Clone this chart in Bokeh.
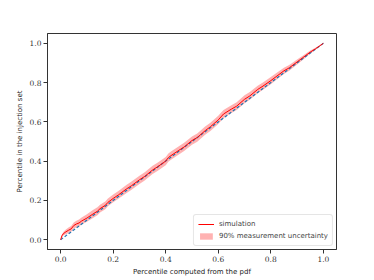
from bokeh.plotting import figure
from bokeh.models import Range1d, Legend, LegendItem, FixedTicker, PrintfTickFormatter
from bokeh.embed import file_html
from bokeh.resources import INLINE

# data
pdf_pct = [0.0, 0.005, 0.01, 0.02, 0.03, 0.04, 0.05, 0.06, 0.07, 0.08, 0.10, 0.12, 0.14,
           0.15, 0.17, 0.18, 0.20, 0.22, 0.25, 0.27, 0.30, 0.32, 0.35, 0.37, 0.40, 0.41,
           0.42, 0.45, 0.47, 0.50, 0.52, 0.55, 0.57, 0.60, 0.61, 0.62, 0.65, 0.67, 0.70,
           0.72, 0.75, 0.77, 0.80, 0.82, 0.85, 0.87, 0.90, 0.92, 0.95, 0.97, 1.0]
inj_pct = [0.0, 0.02, 0.03, 0.04, 0.048, 0.055, 0.072, 0.08, 0.085, 0.095, 0.11, 0.128, 0.145,
           0.158, 0.175, 0.19, 0.21, 0.228, 0.258, 0.275, 0.305, 0.322, 0.355, 0.372, 0.40, 0.418,
           0.428, 0.455, 0.472, 0.505, 0.52, 0.555, 0.575, 0.61, 0.625, 0.64, 0.665, 0.68, 0.715,
           0.732, 0.765, 0.782, 0.81, 0.83, 0.86, 0.875, 0.905, 0.925, 0.955, 0.972, 1.0]
band_half = [0.0, 0.006, 0.009, 0.012, 0.014, 0.015, 0.016, 0.017, 0.018, 0.018, 0.019, 0.02, 0.02,
             0.02, 0.02, 0.02, 0.02, 0.02, 0.021, 0.021, 0.021, 0.021, 0.021, 0.021, 0.021, 0.021,
             0.021, 0.021, 0.021, 0.021, 0.021, 0.021, 0.021, 0.021, 0.021, 0.021, 0.02, 0.02, 0.02,
             0.02, 0.019, 0.019, 0.018, 0.017, 0.016, 0.015, 0.013, 0.011, 0.008, 0.005, 0.0]
diag = [0.0, 1.0]
ticks = [0.0, 0.2, 0.4, 0.6, 0.8, 1.0]

lower = [y - h for y, h in zip(inj_pct, band_half)]
upper = [y + h for y, h in zip(inj_pct, band_half)]

p = figure(frame_width=289, frame_height=216, output_backend="svg", toolbar_location=None,
           x_range=Range1d(-0.05, 1.05), y_range=Range1d(-0.05, 1.05),
           min_border_left=47, min_border_right=28, min_border_top=33, min_border_bottom=20)
p.xgrid.visible = False
p.ygrid.visible = False
p.outline_line_color = "#333333"
p.outline_line_width = 1

band = p.varea(x=pdf_pct, y1=lower, y2=upper, fill_color="#ff7f7f", fill_alpha=0.6)
p.line(x=diag, y=diag, line_color="#1f77b4", line_dash="3 2", line_width=1.2)
sim = p.line(x=pdf_pct, y=inj_pct, line_color="#ff0000", line_width=1)

for ax in (p.xaxis[0], p.yaxis[0]):
    ax.ticker = FixedTicker(ticks=ticks)
    ax.formatter = PrintfTickFormatter(format="%.1f")
    ax.minor_tick_line_color = None
    ax.major_tick_out = 4
    ax.major_tick_in = 0
    ax.axis_line_color = "#333333"
    ax.major_tick_line_color = "#333333"
    ax.major_label_text_font = "DejaVu Serif"
    ax.major_label_text_font_size = "7.5px"
    ax.major_label_text_color = "#333333"
    ax.axis_label_text_font = "DejaVu Sans"
    ax.axis_label_text_font_style = "normal"
    ax.axis_label_text_font_size = "7px"
    ax.axis_label_text_color = "#222222"
    ax.axis_label_standoff = 3
    ax.major_label_standoff = 2

p.xaxis[0].axis_label = "Percentile computed from the pdf"
p.yaxis[0].axis_label = "Percentile in the injection set"

legend = Legend(items=[LegendItem(label="simulation", renderers=[sim]),
                       LegendItem(label="90% measurement uncertainty", renderers=[band])],
                location="bottom_right")
legend.label_text_font = "DejaVu Sans"
legend.label_text_font_size = "7px"
legend.label_height = 10
legend.glyph_height = 8
legend.glyph_width = 16
legend.spacing = 2
legend.padding = 4
legend.margin = 3
legend.border_line_color = "#cccccc"
legend.border_radius = 3
legend.background_fill_alpha = 0.8
p.add_layout(legend)

open("out.html", "w").write(file_html(p, INLINE))
